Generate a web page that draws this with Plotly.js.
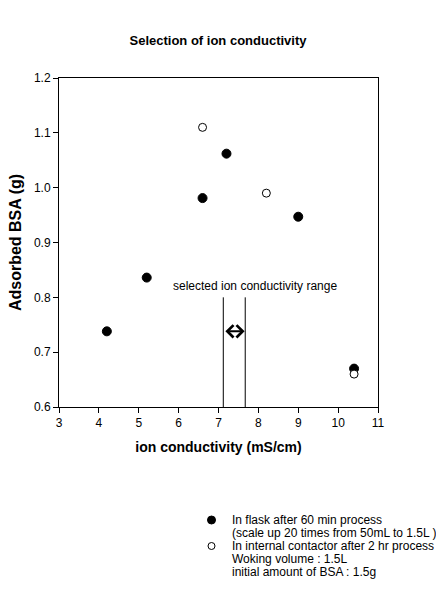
<!DOCTYPE html>
<html><head><meta charset="utf-8">
<script src="https://cdn.plot.ly/plotly-3.0.1.min.js"></script>
<style>html,body{margin:0;padding:0;background:#fff}#chart{width:436px;height:590px}</style>
</head><body><div id="chart"></div>
<script>
var flaskX = [4.2, 5.2, 6.6, 7.2, 9.0, 10.4];
var flaskY = [0.738, 0.836, 0.981, 1.062, 0.947, 0.670];
var contactorX = [6.6, 8.2, 10.4];
var contactorY = [1.110, 0.990, 0.660];
var rangeLow = 7.12, rangeHigh = 7.67;
var rangeTop = 0.80, arrowY = 0.738;
var rangeLabel = 'selected ion conductivity range';
var flaskLines = ['In flask after 60 min process', '(scale up 20 times from 50mL to 1.5L )'];
var contactorLines = ['In internal contactor after 2 hr process', 'Woking volume : 1.5L', 'initial amount of BSA : 1.5g'];

var font = 'Liberation Sans, Arial, sans-serif';
var W = 436, H = 590, mL = 59, mR = 58, mT = 78, mB = 183;
var pw = W - mL - mR, ph = H - mT - mB;
function px2x(p) { return (p - mL) / pw; }
function px2y(p) { return (H - mB - p) / ph; }

var traces = [
  {x: flaskX, y: flaskY, mode: 'markers', type: 'scatter', name: flaskLines.join(' '),
   marker: {symbol: 'circle', size: 9, color: '#000', line: {color: '#000', width: 1}}},
  {x: contactorX, y: contactorY, mode: 'markers', type: 'scatter', name: contactorLines.join(' '),
   marker: {symbol: 'circle', size: 8, color: '#fff', line: {color: '#000', width: 1}}}
];

var shapes = [
  {type: 'line', xref: 'x', yref: 'y', x0: rangeLow, x1: rangeLow, y0: 0.6, y1: rangeTop, line: {color: '#000', width: 1}},
  {type: 'line', xref: 'x', yref: 'y', x0: rangeHigh, x1: rangeHigh, y0: 0.6, y1: rangeTop, line: {color: '#000', width: 1}}
];
var annotations = [
  {x: 7.905, y: 0.821, xref: 'x', yref: 'y', text: rangeLabel, showarrow: false, font: {size: 12}},
  {x: rangeHigh - 0.015, y: arrowY, ax: rangeLow + 0.015, ay: arrowY, xref: 'x', yref: 'y', axref: 'x', ayref: 'y', text: '', showarrow: true,
   arrowside: 'end+start', arrowhead: 4, startarrowhead: 4, arrowsize: 1.2, startarrowsize: 1.2, arrowwidth: 2, arrowcolor: '#000'}
];

// manual legend
var symX = 211.5, textX = 231, lineStep = 13, legTop = 520;
var legendEntries = [
  {lines: flaskLines, fill: '#000', r: 4},
  {lines: contactorLines, fill: '#fff', r: 3.5}
];
var row = 0;
legendEntries.forEach(function (e) {
  var cy = legTop + row * lineStep;
  shapes.push({type: 'circle', xref: 'paper', yref: 'paper', xsizemode: 'pixel', ysizemode: 'pixel',
    xanchor: px2x(symX), yanchor: px2y(cy), x0: -e.r, x1: e.r, y0: -e.r, y1: e.r,
    fillcolor: e.fill, line: {color: '#000', width: 1}});
  e.lines.forEach(function (t) {
    annotations.push({xref: 'paper', yref: 'paper', x: px2x(textX), y: px2y(legTop + row * lineStep),
      xanchor: 'left', yanchor: 'middle', text: t, showarrow: false, font: {size: 12}, borderpad: 0});
    row++;
  });
});

var layout = {
  width: W, height: H,
  margin: {l: mL, r: mR, t: mT, b: mB},
  paper_bgcolor: '#fff', plot_bgcolor: '#fff',
  font: {family: font, size: 12, color: '#000'},
  showlegend: false,
  title: {text: '<b>Selection of ion conductivity</b>', x: 0.5, xanchor: 'center', y: 0.932, yanchor: 'middle', font: {family: font, size: 13, color: '#000'}},
  xaxis: {range: [3, 11], dtick: 1, tick0: 3, showgrid: false, zeroline: false, showline: true, linecolor: '#000', linewidth: 1, mirror: true,
          ticks: 'outside', ticklen: 5, tickcolor: '#000', tickfont: {size: 12},
          title: {text: '<b>ion conductivity (mS/cm)</b>', font: {size: 14}, standoff: 12}},
  yaxis: {range: [0.6, 1.2], dtick: 0.1, tick0: 0.6, tickformat: '.1f', showgrid: false, zeroline: false, showline: true, linecolor: '#000', linewidth: 1, mirror: true,
          ticks: 'outside', ticklen: 5, tickcolor: '#000', tickfont: {size: 12},
          title: {text: '<b>Adsorbed BSA (g)</b>', font: {size: 16}, standoff: 8}},
  shapes: shapes,
  annotations: annotations
};
Plotly.newPlot('chart', traces, layout, {displayModeBar: false, staticPlot: true});
</script></body></html>
